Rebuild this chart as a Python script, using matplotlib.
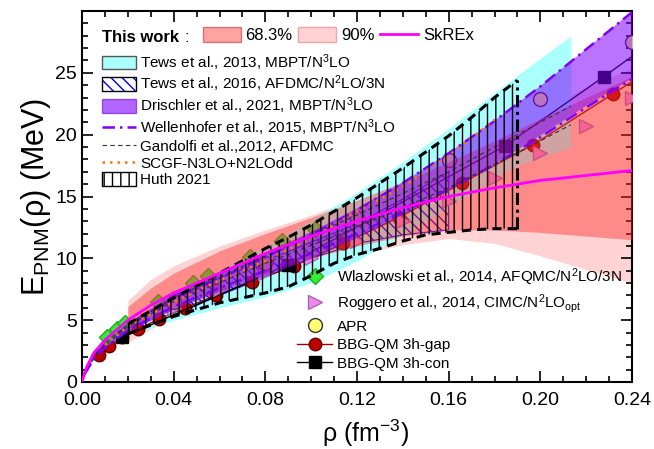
import matplotlib
matplotlib.use("Agg")
import matplotlib.pyplot as plt
from matplotlib.patches import Patch
from matplotlib.lines import Line2D
from matplotlib.ticker import MultipleLocator, FormatStrFormatter

plt.rcParams['font.family'] = ['Liberation Sans', 'DejaVu Sans']
plt.rcParams['mathtext.fontset'] = 'custom'
plt.rcParams['mathtext.rm'] = 'Liberation Sans'
plt.rcParams['mathtext.it'] = 'Liberation Sans:italic'
plt.rcParams['mathtext.bf'] = 'Liberation Sans:bold'
plt.rcParams['hatch.linewidth'] = 1.0

# ---------------- data ----------------
# This work (bands + SkREx line)
band_x = [0.02, 0.03, 0.04, 0.06, 0.08, 0.10, 0.12, 0.14, 0.16, 0.18, 0.20, 0.22, 0.24]
red_lo = [4.0, 5.0, 5.9, 7.4, 8.8, 10.0, 11.0, 11.8, 12.3, 12.3, 12.1, 11.8, 11.5]
red_hi = [6.1, 7.6, 8.8, 10.6, 12.0, 13.3, 14.7, 16.2, 17.8, 19.5, 21.3, 23.0, 24.7]
pink_lo = [3.2, 4.3, 5.2, 6.6, 8.0, 9.2, 10.3, 11.1, 11.6, 11.2, 10.2, 9.1, 8.0]
pink_hi = [6.6, 8.3, 9.4, 11.0, 12.3, 13.5, 14.9, 16.5, 18.2, 20.1, 22.0, 23.8, 25.4]
skrex_x = [0.0, 0.002, 0.005, 0.01, 0.02, 0.03, 0.04, 0.06, 0.08, 0.10, 0.12, 0.14, 0.16, 0.18, 0.20, 0.22, 0.24]
skrex_y = [0.0, 1.2, 2.3, 3.4, 5.0, 6.2, 7.2, 8.8, 10.4, 11.8, 13.0, 14.1, 15.0, 15.7, 16.3, 16.7, 17.1]

# Tews 2013 (cyan)
tews13_x = [0.005, 0.01, 0.02, 0.04, 0.06, 0.08, 0.10, 0.12, 0.14, 0.16, 0.18, 0.19, 0.2133]
tews13_lo = [1.9, 2.8, 3.8, 5.0, 6.0, 6.9, 8.0, 9.8, 11.9, 14.1, 16.5, 17.5, 19.0]
tews13_hi = [2.1, 3.1, 4.7, 7.0, 9.0, 11.0, 13.1, 15.3, 17.8, 20.5, 23.4, 24.8, 28.0]

# Tews 2016 (blue hatch)
tews16_x = [0.04, 0.06, 0.08, 0.10, 0.12, 0.14, 0.16]
tews16_lo = [5.4, 7.0, 8.5, 10.0, 11.2, 11.9, 12.3]
tews16_hi = [7.0, 8.4, 9.8, 11.3, 12.8, 14.8, 17.0]

# Drischler 2021 (purple)
dri_x = [0.01, 0.02, 0.04, 0.06, 0.08, 0.10, 0.12, 0.14, 0.16, 0.18, 0.20, 0.22, 0.24]
dri_lo = [2.8, 4.1, 5.9, 7.3, 8.6, 10.0, 11.7, 13.6, 15.6, 17.7, 20.0, 22.4, 24.6]
dri_hi = [3.2, 4.8, 7.2, 8.9, 10.5, 12.2, 14.1, 16.2, 18.6, 21.2, 24.0, 27.0, 30.0]

# Wellenhofer 2015 (purple dash-dot)
well_x = [0.001, 0.005, 0.01, 0.02, 0.04, 0.06, 0.08, 0.10, 0.12, 0.14, 0.16, 0.18, 0.20, 0.22, 0.24]
well_lo = [0.6, 1.8, 2.8, 4.2, 6.1, 7.6, 9.0, 10.4, 12.0, 13.7, 15.6, 17.6, 19.8, 22.2, 24.5]
well_hi = [0.7, 2.0, 3.0, 4.6, 6.7, 8.4, 10.1, 11.9, 13.9, 16.1, 18.5, 21.1, 23.9, 26.9, 29.9]

# Gandolfi 2012 (black dashed)
gand_x = [0.002, 0.01, 0.02, 0.04, 0.08, 0.12, 0.16, 0.20, 0.2133]
gand_lo = [1.1, 3.0, 4.5, 6.5, 9.6, 12.5, 15.7, 19.5, 20.8]
gand_hi = [1.2, 3.2, 4.7, 6.8, 10.2, 13.5, 17.0, 21.0, 22.3]

# SCGF N3LO+N2LOdd (orange dotted)
scgf_x = [0.01, 0.02, 0.04, 0.06, 0.08, 0.10, 0.12, 0.14, 0.16, 0.18]
scgf_y = [3.0, 4.5, 6.5, 8.2, 9.8, 11.6, 13.8, 15.8, 18.3, 21.2]

# Huth 2021 (vertical hatch)
huth_x = [0.02, 0.04, 0.06, 0.08, 0.09, 0.10, 0.11, 0.12, 0.13, 0.14, 0.15, 0.16, 0.17, 0.18, 0.19]
huth_lo = [3.9, 5.3, 6.4, 7.2, 7.7, 8.6, 9.6, 10.3, 10.8, 11.4, 11.9, 12.1, 12.3, 12.4, 12.4]
huth_hi = [4.7, 6.8, 8.8, 10.8, 11.7, 12.7, 13.8, 14.9, 16.1, 17.3, 18.6, 19.9, 21.4, 23.0, 24.4]

# Markers
wlaz_x = [0.0109, 0.0153, 0.0188, 0.033, 0.0484, 0.055, 0.0733, 0.0873, 0.1017]
wlaz_y = [3.6, 4.3, 4.8, 6.5, 8.0, 8.6, 10.1, 11.4, 12.4]
rogg_x = [0.04, 0.06, 0.08, 0.10, 0.12, 0.14, 0.16, 0.18, 0.20, 0.22, 0.24]
rogg_y = [6.0, 7.5, 8.8, 10.0, 11.4, 13.0, 14.6, 16.5, 18.5, 20.7, 23.0]
apr_x = [0.04, 0.08, 0.12, 0.16, 0.20, 0.24]
apr_y = [6.45, 9.65, 13.29, 17.94, 22.92, 27.49]
gap_x = [0.0073, 0.0116, 0.0173, 0.0246, 0.0338, 0.045, 0.0584, 0.0742, 0.0927, 0.114, 0.1383, 0.1659, 0.197, 0.2317, 0.27]
gap_y = [2.2, 2.9, 3.6, 4.3, 5.1, 6.0, 7.0, 8.1, 9.4, 11.2, 13.3, 16.1, 19.2, 23.3, 27.9]
con_x = [0.0175, 0.090, 0.1846, 0.2278, 0.26]
con_y = [3.6, 9.5, 19.1, 24.7, 29.0]

# ---------------- figure ----------------
fig = plt.figure(figsize=(6.54, 4.49), dpi=100)
ax = fig.add_axes([82/654, 1-382/449, 550/654, 371/449])

ax.fill_between(band_x, pink_lo, pink_hi, color='#ffcccc', alpha=0.85, lw=0, zorder=1)
ax.fill_between(tews13_x, tews13_lo, tews13_hi, color='#aaffff', lw=0, zorder=2)
ax.fill_between(tews16_x, tews16_lo, tews16_hi, facecolor='none', edgecolor='#0000ee',
                hatch='\\\\\\', lw=0.8, zorder=2.5)

# markers
ax.plot(gap_x, gap_y, '-', color='#990000', lw=1.0, marker='o', ms=9,
        mfc='#bb0000', mec='#660000', zorder=3)
ax.plot(con_x, con_y, '-', color='black', lw=1.0, marker='s', ms=8,
        mfc='black', mec='black', zorder=3)
ax.plot(wlaz_x, wlaz_y, ls='none', marker='D', ms=8, mfc='#33ee33', mec='#22aa22', zorder=3)
ax.plot(rogg_x, rogg_y, ls='none', marker='>', ms=10, mfc='#ee88ee', mec='#aa66aa', zorder=3)
ax.plot(apr_x, apr_y, ls='none', marker='o', ms=10, mfc='#ffff77', mec='#333333', zorder=3)

ax.fill_between(band_x, red_lo, red_hi, color='#ff3333', alpha=0.45, lw=0, zorder=4)
ax.fill_between(dri_x, dri_lo, dri_hi, color='#8000ff', alpha=0.55, lw=0, zorder=5)

for yy in (well_lo, well_hi):
    ax.plot(well_x, yy, color='#8000ff', lw=1.8, ls=(0, (5, 2, 1, 2)), zorder=6)
for yy in (gand_lo, gand_hi):
    ax.plot(gand_x, yy, color='#333333', lw=0.8, ls=(0, (4, 3)), zorder=6)
ax.plot(scgf_x, scgf_y, color='#ff7700', lw=1.8, ls=(0, (1, 2)), zorder=6)

ax.fill_between(huth_x, huth_lo, huth_hi, facecolor='none', edgecolor='black',
                hatch='||', lw=0, zorder=7)
ax.plot(huth_x, huth_hi, color='black', lw=2.2, ls=(0, (3, 2)), zorder=7)
ax.plot(huth_x, huth_lo, color='black', lw=2.2, ls=(0, (3, 2)), zorder=7)
ax.plot([huth_x[-1], huth_x[-1]], [huth_lo[-1], huth_hi[-1]], color='black', lw=2.2,
        ls=(0, (4, 1.5, 1, 1.5)), zorder=7)
ax.plot([huth_x[0], huth_x[0]], [huth_lo[0], huth_hi[0]], color='black', lw=1.0, zorder=7)

ax.plot(skrex_x, skrex_y, color='#ff00ff', lw=2.0, zorder=8)

# axes
ax.set_xlim(0, 0.24)
ax.set_ylim(0, 30)
ax.xaxis.set_major_locator(MultipleLocator(0.04))
ax.xaxis.set_minor_locator(MultipleLocator(0.01))
ax.xaxis.set_major_formatter(FormatStrFormatter('%.2f'))
ax.set_yticks([0, 5, 10, 15, 20, 25])
ax.yaxis.set_minor_locator(MultipleLocator(1))
ax.tick_params(which='both', direction='in', top=True, right=True, labelsize=14, width=1.2)
ax.tick_params(which='major', length=8)
ax.tick_params(which='minor', length=4.5)
ax.tick_params(axis='x', pad=7)
for s in ax.spines.values():
    s.set_linewidth(1.5)
ax.set_xlabel(r'ρ (fm$^\mathregular{-3}$)', fontsize=18, va='top')
ax.xaxis.set_label_coords(0.516, -0.095)
ax.set_ylabel(r'E$_\mathregular{PNM}$(ρ) (MeV)', fontsize=22, labelpad=2)

# legends
h_top = [Patch(facecolor='#ff3333', alpha=0.45, edgecolor='#aa0000', lw=1),
         Patch(facecolor='#ffcccc', alpha=0.85, edgecolor='#ee9999', lw=1),
         Line2D([], [], color='#ff00ff', lw=2.0)]
leg0 = ax.legend(h_top, ['68.3%', '90%', 'SkREx'], ncol=3, loc='upper left',
                 bbox_to_anchor=((203-82)/550, (382-27)/371), borderaxespad=0,
                 borderpad=0, frameon=False, fontsize=12, handlelength=2.25,
                 handleheight=1.05, handletextpad=0.3, columnspacing=0.35)
ax.add_artist(leg0)
ax.text((102-82)/550, (382-37)/371, 'This work', transform=ax.transAxes, fontsize=12,
        fontweight='bold', va='center', ha='left')
ax.text((184-82)/550, (382-37)/371, ':', transform=ax.transAxes, fontsize=12,
        va='center', ha='left')

h1 = [Patch(facecolor='#aaffff', edgecolor='#555555', lw=1),
      (Patch(facecolor='white', edgecolor='#0000ee', hatch='\\\\\\', lw=0),
       Patch(facecolor='none', edgecolor='black', lw=1)),
      Patch(facecolor='#8000ff', alpha=0.6, edgecolor='#6600cc', lw=1),
      Line2D([], [], color='#8000ff', lw=1.8, ls=(0, (5, 2, 1, 2))),
      Line2D([], [], color='#333333', lw=0.8, ls=(0, (4, 3))),
      Line2D([], [], color='#ff7700', lw=1.8, ls=(0, (1, 2))),
      Patch(facecolor='white', edgecolor='black', hatch='||', lw=1)]
l1 = ['Tews et al., 2013, MBPT/N$^\\mathregular{3}$LO',
      'Tews et al., 2016, AFDMC/N$^\\mathregular{2}$LO/3N',
      'Drischler et al., 2021, MBPT/N$^\\mathregular{3}$LO',
      'Wellenhofer et al., 2015, MBPT/N$^\\mathregular{3}$LO',
      'Gandolfi et al.,2012, AFDMC',
      'SCGF-N3LO+N2LOdd',
      'Huth 2021']
leg1 = ax.legend(h1, l1, loc='upper left', bbox_to_anchor=((102-82)/550, (382-52)/371),
                 borderaxespad=0, borderpad=0, frameon=False, fontsize=11,
                 handlelength=2.2, handleheight=1.0, handletextpad=0.3, labelspacing=0.08)
ax.add_artist(leg1)

h2 = [Line2D([], [], ls='none', marker='D', ms=8, mfc='#33ee33', mec='#22aa22'),
      Line2D([], [], ls='none', marker='>', ms=10, mfc='#ee88ee', mec='#aa66aa'),
      Line2D([], [], ls='none', marker='o', ms=10, mfc='#ffff77', mec='#333333'),
      Line2D([], [], color='#990000', lw=1.0, marker='o', ms=9, mfc='#bb0000', mec='#660000'),
      Line2D([], [], color='black', lw=1.0, marker='s', ms=8, mfc='black', mec='black')]
l2 = ['Wlazlowski et al., 2014, AFQMC/N$^\\mathregular{2}$LO/3N',
      'Roggero et al., 2014, CIMC/N$^\\mathregular{2}$LO$_\\mathregular{opt}$',
      'APR', 'BBG-QM 3h-gap', 'BBG-QM 3h-con']
leg2 = ax.legend(h2, l2, loc='upper left', bbox_to_anchor=((297-82)/550, (382-266)/371),
                 borderaxespad=0, borderpad=0, frameon=False, fontsize=11,
                 handlelength=2.3, handletextpad=0.3, labelspacing=0.3, numpoints=1)

fig.savefig('out.png', dpi=100)
